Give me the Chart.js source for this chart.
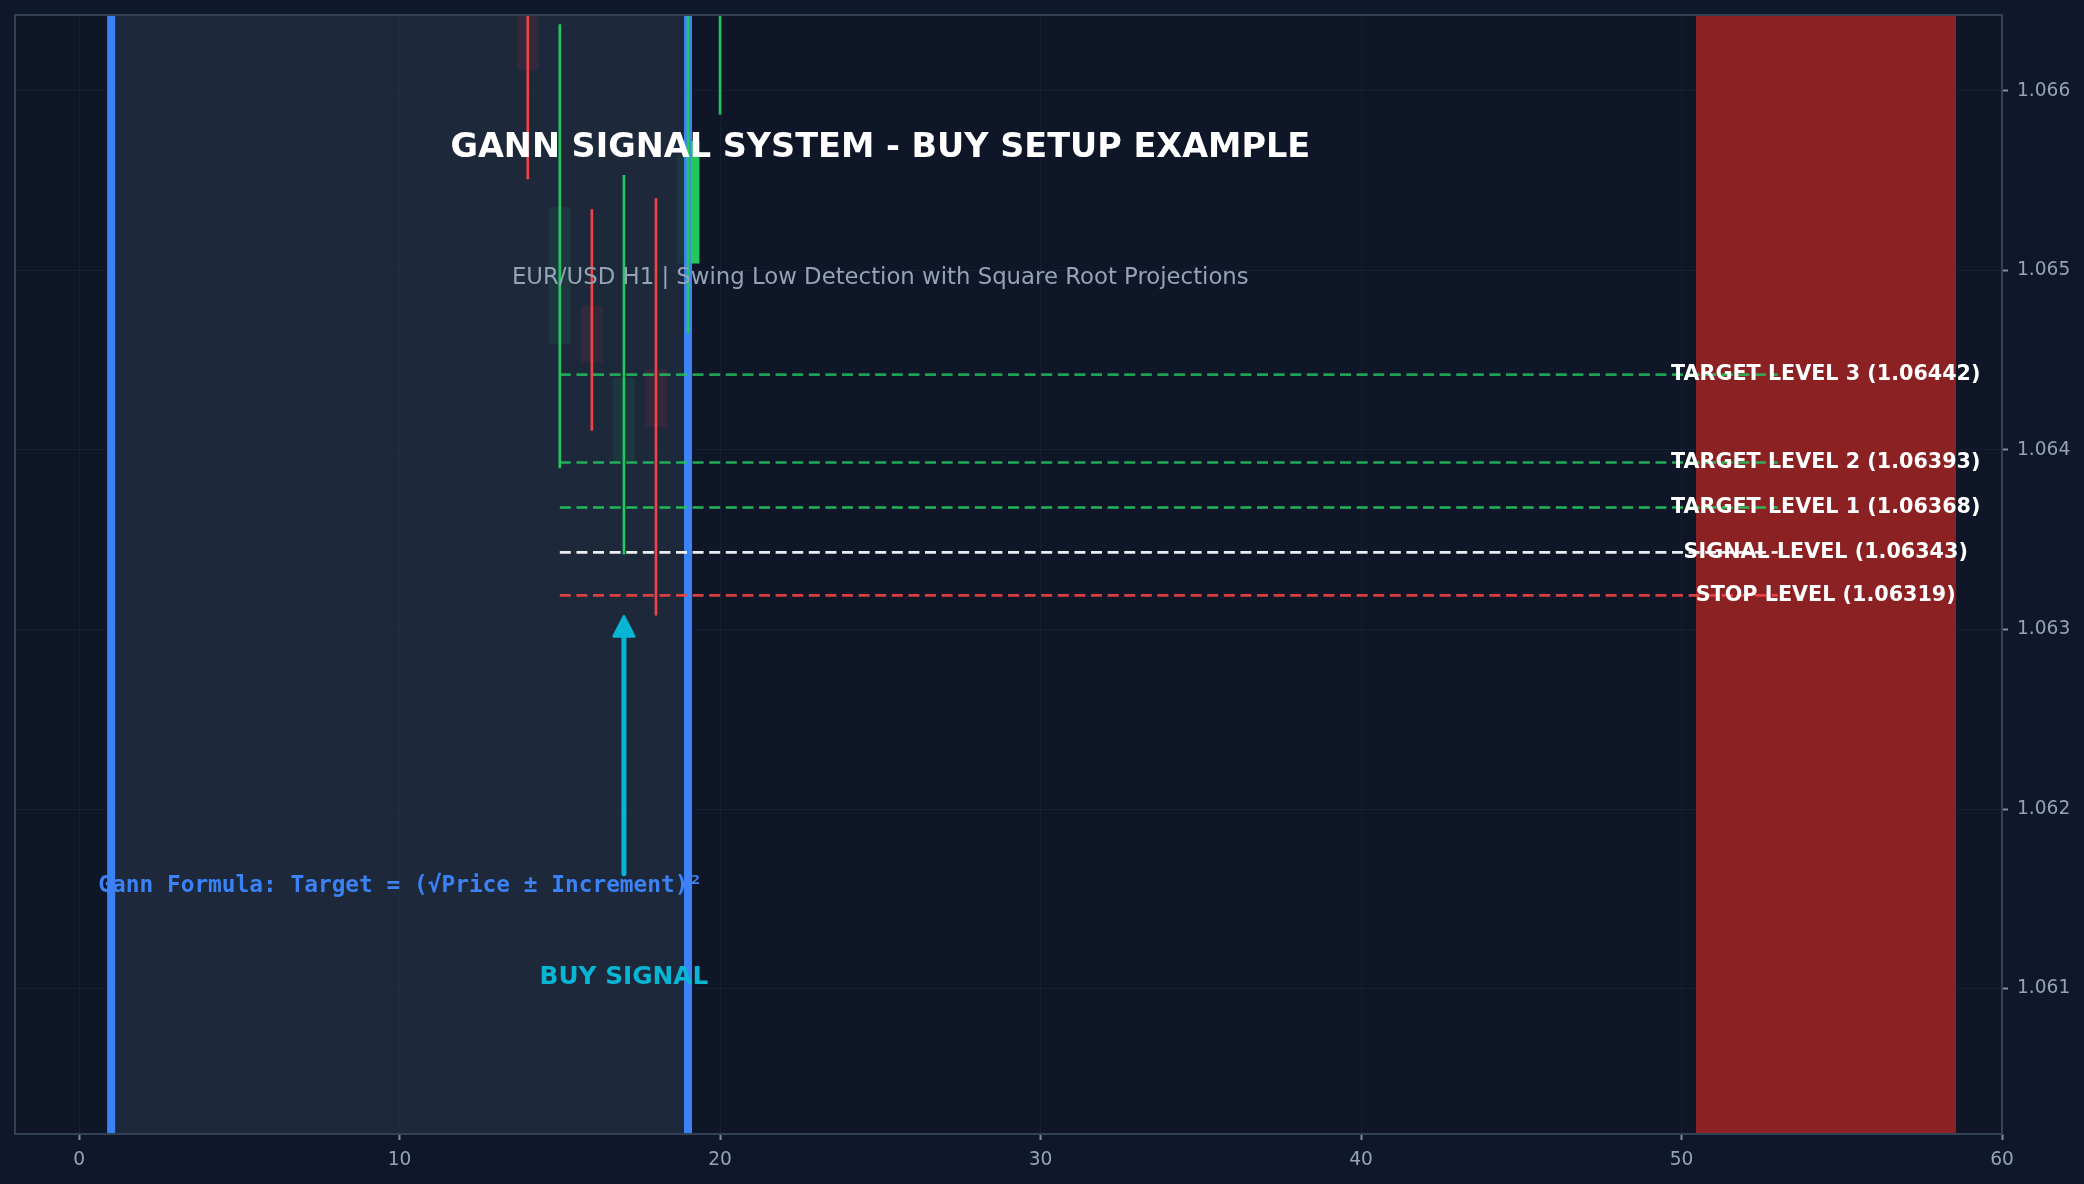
<!DOCTYPE html>
<html>
<head>
<meta charset="utf-8">
<script src="https://cdn.jsdelivr.net/npm/chart.js@4.4.1/dist/chart.umd.min.js"></script>
<style>
  html, body { margin: 0; padding: 0; background: #0f172a; }
  canvas { display: block; }
</style>
</head>
<body>
<canvas id="gannChart" width="2084" height="1184"></canvas>
<script>
// candles (only the part that shows inside the window)
const candleX     = [14, 15, 16, 17, 18, 19, 20];
const candleOpen  = [1.06660, 1.06459, 1.06480, 1.06394, 1.06445, 1.06504, 1.06650];
const candleHigh  = [1.06680, 1.06637, 1.06534, 1.06553, 1.06540, 1.06680, 1.06700];
const candleLow   = [1.06551, 1.06390, 1.06411, 1.06342, 1.06308, 1.06465, 1.06587];
const candleClose = [1.06612, 1.06535, 1.06449, 1.06440, 1.06413, 1.06564, 1.06680];

// highlighted signal candle body
const signalBarX = [19.22];
const signalBarRange = [[1.06504, 1.06572]];

// gann levels
const levelNames  = ['STOP LEVEL', 'SIGNAL LEVEL', 'TARGET LEVEL 1', 'TARGET LEVEL 2', 'TARGET LEVEL 3'];
const levelValues = [1.06319, 1.06343, 1.06368, 1.06393, 1.06442];
const levelFromX  = 15;
const levelToX    = 53;

// zones
const setupZone = [1, 19];
const stopZone  = [50.45, 58.57];

// buy arrow
const arrowX = 17;
const arrowY = [1.06164, 1.06308];

// axes
const xRange = [-2, 60];
const yRange = [1.06019, 1.066423];
const xTicks = [0, 10, 20, 30, 40, 50, 60];
const yTicks = [1.061, 1.062, 1.063, 1.064, 1.065, 1.066];

const GREEN = '#22c55e';
const RED = '#ef4444';
const isUp = candleX.map((x, i) => candleClose[i] >= candleOpen[i]);

const levelColors = ['rgba(239,68,68,0.9)', 'rgba(248,250,252,0.95)', 'rgba(34,197,94,0.92)', 'rgba(34,197,94,0.85)', 'rgba(34,197,94,0.8)'];

function zoneFill(range, color, order) {
  return {
    type: 'line',
    data: [{ x: range[0], y: yRange[1] }, { x: range[1], y: yRange[1] }],
    fill: 'start',
    backgroundColor: color,
    borderWidth: 0,
    pointRadius: 0,
    order: order
  };
}

function vLine(xv, order) {
  return {
    type: 'line',
    data: [{ x: xv, y: yRange[0] }, { x: xv, y: yRange[1] }],
    borderColor: '#3b82f6',
    borderWidth: 8,
    pointRadius: 0,
    fill: false,
    order: order
  };
}

const datasets = [
  zoneFill(setupZone, 'rgba(42,56,74,0.55)', 100),
  zoneFill(stopZone, '#8c2123', 99),
  {
    type: 'bar',
    data: candleX.map((x, i) => ({ x: x, y: [candleOpen[i], candleClose[i]] })),
    backgroundColor: isUp.map(u => u ? 'rgba(34,197,94,0.10)' : 'rgba(239,68,68,0.10)'),
    barThickness: 21,
    grouped: false,
    order: 90
  },
  vLine(setupZone[0], 80),
  vLine(setupZone[1], 80),
  {
    type: 'bar',
    data: signalBarX.map((x, i) => ({ x: x, y: signalBarRange[i] })),
    backgroundColor: GREEN,
    barThickness: 8,
    grouped: false,
    order: 70
  },
  {
    type: 'bar',
    data: candleX.map((x, i) => ({ x: x, y: [candleLow[i], candleHigh[i]] })),
    backgroundColor: isUp.map(u => u ? GREEN : RED),
    barThickness: 2,
    grouped: false,
    order: 60
  }
];

levelValues.forEach((v, i) => {
  datasets.push({
    type: 'line',
    data: [{ x: levelFromX, y: v }, { x: levelToX, y: v }],
    borderColor: levelColors[i],
    borderWidth: 2.6,
    borderDash: [11, 5.6],
    pointRadius: 0,
    fill: false,
    order: 50 - i
  });
});

const bgPlugin = {
  id: 'bg',
  beforeDraw(chart) {
    const { ctx, chartArea: a } = chart;
    ctx.save();
    ctx.fillStyle = '#0f172a';
    ctx.fillRect(0, 0, chart.width, chart.height);
    ctx.fillStyle = '#0e1628';
    ctx.fillRect(a.left, a.top, a.right - a.left, a.bottom - a.top);
    ctx.restore();
  },
  afterDraw(chart) {
    const { ctx, chartArea: a } = chart;
    ctx.save();
    ctx.strokeStyle = '#334155';
    ctx.lineWidth = 2;
    ctx.strokeRect(a.left, a.top, a.right - a.left, a.bottom - a.top);
    ctx.restore();
  }
};

const textPlugin = {
  id: 'texts',
  afterDatasetsDraw(chart) {
    const { ctx } = chart;
    const xs = chart.scales.x, ys = chart.scales.y;
    const px = v => xs.getPixelForValue(v);
    const py = v => ys.getPixelForValue(v);
    ctx.save();

    // arrow
    const ax = px(arrowX);
    const tail = py(arrowY[0]);
    const tip = py(arrowY[1]);
    const headLen = 21, headW = 23;
    ctx.strokeStyle = '#06b6d4';
    ctx.fillStyle = '#06b6d4';
    ctx.lineWidth = 5;
    ctx.lineCap = 'round';
    ctx.beginPath();
    ctx.moveTo(ax, tail);
    ctx.lineTo(ax, tip + headLen);
    ctx.stroke();
    ctx.lineJoin = 'round';
    ctx.lineWidth = 3;
    ctx.beginPath();
    ctx.moveTo(ax, tip + 1.5);
    ctx.lineTo(ax - headW / 2 + 1.5, tip + headLen);
    ctx.lineTo(ax + headW / 2 - 1.5, tip + headLen);
    ctx.closePath();
    ctx.fill();
    ctx.stroke();

    // level labels
    ctx.fillStyle = '#ffffff';
    ctx.font = 'bold 20.7px "DejaVu Sans"';
    ctx.textAlign = 'center';
    ctx.textBaseline = 'middle';
    levelValues.forEach((v, i) => {
      ctx.fillText(levelNames[i] + ' (' + v.toFixed(5) + ')', px(54.5), py(v));
    });

    // title + subtitle
    ctx.font = 'bold 33.5px "DejaVu Sans"';
    ctx.fillText('GANN SIGNAL SYSTEM - BUY SETUP EXAMPLE', px(25), py(1.06568));
    ctx.fillStyle = '#94a3b8';
    ctx.font = '22.8px "DejaVu Sans"';
    ctx.fillText('EUR/USD H1 | Swing Low Detection with Square Root Projections', px(25), py(1.06496));

    // buy signal
    ctx.fillStyle = '#06b6d4';
    ctx.font = 'bold 24.8px "DejaVu Sans"';
    ctx.fillText('BUY SIGNAL', px(arrowX), py(1.06106));

    // formula
    ctx.fillStyle = '#3b82f6';
    ctx.font = 'bold 22.8px "DejaVu Sans Mono"';
    ctx.textAlign = 'left';
    ctx.fillText('Gann Formula: Target = (\u221APrice \u00B1 Increment)\u00B2', px(0.6), py(1.06157));

    ctx.restore();
  }
};

const tickFont = { family: 'DejaVu Sans', size: 18.6 };

new Chart(document.getElementById('gannChart'), {
  type: 'bar',
  data: { datasets: datasets },
  options: {
    responsive: false,
    devicePixelRatio: 1,
    animation: false,
    layout: { padding: { left: 15, top: 15, right: 0, bottom: 0 } },
    plugins: {
      legend: { display: false },
      tooltip: { enabled: false }
    },
    scales: {
      x: {
        type: 'linear',
        min: xRange[0],
        max: xRange[1],
        offset: false,
        grid: { offset: false, color: 'rgba(100,116,139,0.10)', tickColor: '#8391a7', tickLength: 6, tickWidth: 2 },
        border: { display: false },
        ticks: { color: '#94a3b8', font: tickFont, padding: 9, callback: v => String(v) },
        afterBuildTicks: s => { s.ticks = xTicks.map(v => ({ value: v })); },
        afterFit: s => { s.height = 50; s.paddingLeft = 0; s.paddingRight = 0; }
      },
      y: {
        type: 'linear',
        position: 'right',
        min: yRange[0],
        max: yRange[1],
        beginAtZero: false,
        grid: { color: 'rgba(100,116,139,0.10)', tickColor: '#8391a7', tickLength: 6, tickWidth: 2 },
        border: { display: false },
        ticks: { color: '#94a3b8', font: tickFont, padding: 9, callback: v => Number(v).toFixed(3) },
        afterBuildTicks: s => { s.ticks = yTicks.map(v => ({ value: v })); },
        afterFit: s => { s.width = 82; s.paddingTop = 0; s.paddingBottom = 0; }
      }
    }
  },
  plugins: [bgPlugin, textPlugin]
});
</script>
</body>
</html>
